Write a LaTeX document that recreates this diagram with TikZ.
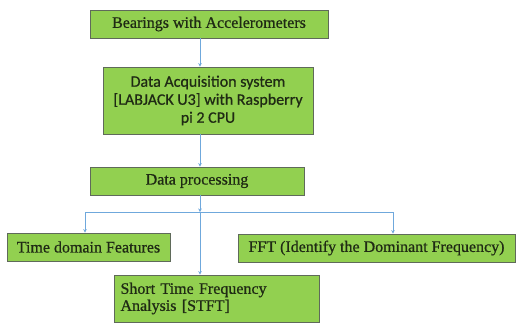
\documentclass[tikz,border=0pt]{standalone}
\usepackage{fontspec}
\setmainfont{Liberation Serif}
\newfontfamily\semiserif[BoldFont=Liberation Serif, BoldFeatures={FakeBold=0.7}]{Liberation Serif}
\newfontfamily\calib[BoldFont=Carlito, BoldFeatures={FakeBold=0.7}]{Carlito}
\usetikzlibrary{arrows.meta}
\definecolor{boxgreen}{HTML}{92D050}
\definecolor{boxedge}{HTML}{5F6A5A}
\definecolor{arrblue}{HTML}{6FA8DC}
\definecolor{txt}{HTML}{1F2A14}
\tikzset{
  box/.style={draw=boxedge, line width=0.9pt, fill=boxgreen, text=txt, inner sep=2pt, anchor=center},
  serif/.style={font=\semiserif\bfseries\fontsize{16}{17}\selectfont},
  arr/.style={draw=arrblue, line width=0.8pt, -{Stealth[length=3.5pt,width=3.5pt]}},
  ln/.style={draw=arrblue, line width=0.8pt}
}
\begin{document}
\begin{tikzpicture}[x=1pt,y=-1pt]
\useasboundingbox (0,0) rectangle (522,330);
\fill[white] (0,0) rectangle (522,330);
\node[box, serif, minimum width=238pt, minimum height=28pt] (b1) at (209,24) {Bearings with Accelerometers};
\node[box, minimum width=210pt, minimum height=67pt, align=center, font=\calib\bfseries\fontsize{16}{18}\selectfont] (b2) at (208,100.5) {Data Acquisition system\\{}{[LABJACK U3]} with Raspberry\\pi 2 CPU};
\node[box, serif, minimum width=214pt, minimum height=28pt] (b3) at (197,181) {Data processing};
\node[box, serif, minimum width=163pt, minimum height=28pt] (tdf) at (88.5,247) {Time domain Features};
\node[box, serif, minimum width=277pt, minimum height=28pt] (fft) at (376.5,248) {FFT (Identify the Dominant Frequency)};
\node[box, serif, minimum width=205pt, minimum height=47pt, align=left, text width=192pt] (stft) at (216.5,298.5) {Short Time Frequency\\Analysis [STFT]};
\coordinate (j) at (200,212);
\coordinate (tl) at (85,212);
\coordinate (tr) at (393,212);
\draw[arr] (b1.south -| j) -- (b2.north -| j);
\draw[arr] (b2.south -| j) -- (b3.north -| j);
\draw[arr] (b3.south -| j) -- (j);
\draw[ln] (tl) -- (tr);
\draw[arr] (tl) -- (tdf.north -| tl);
\draw[arr] (tr) -- (fft.north -| tr);
\draw[arr] (j) -- (stft.north -| j);
\end{tikzpicture}
\end{document}
